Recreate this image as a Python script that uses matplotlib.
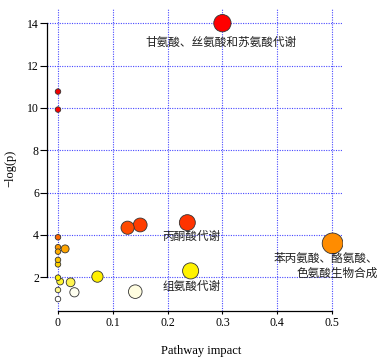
"""
Pathway impact bubble chart (-log(p) vs pathway impact).
"""

import matplotlib
matplotlib.use("Agg")
import matplotlib.pyplot as plt
import numpy as np

# ---------------------------------------------------------------------------
# Data
# ---------------------------------------------------------------------------

impact = [0.300, 0.0, 0.0, 0.236, 0.150, 0.127, 0.0, 0.501, 0.0, 0.013,
          0.0, 0.0, 0.0, 0.242, 0.072, 0.0, 0.004, 0.023, 0.0, 0.141,
          0.030, 0.0]
neg_log_p = [14.00, 10.77, 9.92, 4.58, 4.47, 4.34, 3.89, 3.60, 3.42, 3.34,
             3.21, 2.82, 2.61, 2.30, 2.03, 1.98, 1.80, 1.76, 1.40, 1.32,
             1.29, 0.97]
point_colors = ["#FF0000", "#F00000", "#FF0000", "#FF3300", "#FF3D00",
                "#FF4A00", "#FF6600", "#FF8C00", "#FF9900", "#FFA500",
                "#FFAD00", "#FFC400", "#FFD000", "#FFF200", "#FFF000",
                "#FFF000", "#FFF530", "#FFF450", "#FFF990", "#FFFDE0",
                "#FFFFF0", "#FFFFFF"]

x_ticks = [0, 0.1, 0.2, 0.3, 0.4, 0.5]
x_tick_labels = ["0", "0.1", "0.2", "0.3", "0.4", "0.5"]
y_ticks = [2, 4, 6, 8, 10, 12, 14]

labels = ["甘氨酸、丝氨酸和苏氨酸代谢", "丙酮酸代谢", "组氨酸代谢",
          "苯丙氨酸、酪氨酸、\n色氨酸生物合成"]

# ---------------------------------------------------------------------------
# Plot
# ---------------------------------------------------------------------------

serif = ["Liberation Serif", "DejaVu Serif"]
cjk = ["Noto Sans CJK SC", "DejaVu Sans"]

fig = plt.figure(figsize=(3.79, 3.61), dpi=100)
ax = fig.add_axes([0.1248, 0.1393, 0.7802, 0.8387])

x = np.asarray(impact)
y = np.asarray(neg_log_p)
diam_px = 5.5 + 21.5 * np.sqrt(x)          # bubble diameter grows with impact
sizes = (diam_px * 0.72) ** 2

order = np.argsort(-sizes)
ax.scatter(x[order], y[order], s=sizes[order],
           c=[point_colors[i] for i in order],
           edgecolors="#333333", linewidths=0.6, zorder=3)

ax.set_xlim(-0.0195, 0.52)
ax.set_ylim(0.42, 14.72)

ax.set_xticks(x_ticks)
ax.set_xticklabels(x_tick_labels, family=serif, fontsize=8.5)
ax.set_yticks(y_ticks)
ax.set_yticklabels([str(v) for v in y_ticks], family=serif, fontsize=8.5)
ax.tick_params(axis="y", length=5, width=0.8, pad=1, direction="out")
ax.tick_params(axis="x", length=2.5, width=0.8, pad=2, direction="out")

ax.grid(True, color="#4848FF", linestyle=(0, (1, 1.2)), linewidth=0.8)
ax.set_axisbelow(True)

for side in ("top", "right"):
    ax.spines[side].set_visible(False)
ax.spines["left"].set_bounds(2, 14)
ax.spines["bottom"].set_bounds(0, 0.5)
ax.spines["left"].set_linewidth(0.9)
ax.spines["bottom"].set_linewidth(0.9)

ax.set_xlabel("Pathway impact", family=serif, fontsize=9)
ax.set_ylabel("\u2212log(p)", family=serif, fontsize=9)
ax.xaxis.set_label_coords(0.519, -0.112)
ax.yaxis.set_label_coords(-0.105, 0.471)

# pathway names
ax.text(0.297, 13.11, labels[0], family=cjk, fontsize=8.4,
        ha="center", va="center", color="#222222")
ax.text(0.191, 3.92, labels[1], family=cjk, fontsize=8.4,
        ha="left", va="center", color="#222222")
ax.text(0.191, 1.57, labels[2], family=cjk, fontsize=8.4,
        ha="left", va="center", color="#222222")
ax.text(0.488, 2.52, labels[3], family=cjk, fontsize=8.4,
        ha="center", va="center", multialignment="right",
        linespacing=1.2, color="#222222")

fig.savefig("out.png", dpi=100)
plt.close(fig)
